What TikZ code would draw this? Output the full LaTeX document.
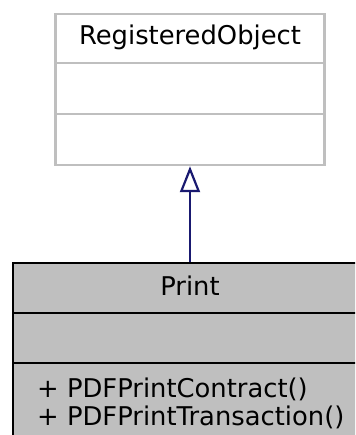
\documentclass[tikz,border=0pt]{standalone}
\usepackage{fontspec}
\setmainfont{DejaVu Sans}
\usetikzlibrary{arrows.meta}
\definecolor{boxgray}{HTML}{BFBFBF}
\definecolor{edgeblue}{HTML}{191970}
\begin{document}
\begin{tikzpicture}[x=1pt,y=-1pt,line join=miter,
  umltext/.style={inner sep=0pt,font=\fontsize{25.8}{28}\selectfont},
  basebox/.style={draw=boxgray,fill=white,line width=2.2pt,inner sep=0pt,anchor=north},
  mainbox/.style={draw=black,fill=boxgray,line width=2.2pt,inner sep=0pt,anchor=north}]
  \useasboundingbox (0,0) rectangle (355,435);
  \clip (0,0) rectangle (355,435);
  % base class
  \node[basebox,minimum width=269pt,minimum height=151pt] (regobj) at (190,13) {};
  \draw[boxgray,line width=2.2pt] (55.5,63) -- (324.5,63);
  \draw[boxgray,line width=2.2pt] (55.5,114) -- (324.5,114);
  \node[umltext,anchor=base] (regobjname) at (190,45) {RegisteredObject};
  % derived class
  \node[mainbox,minimum width=354pt,minimum height=178pt] (print) at (190,262) {};
  \draw[line width=2.2pt] (13,313) -- (367,313);
  \draw[line width=2.2pt] (13,363) -- (367,363);
  \node[umltext,anchor=base] (printname) at (190,295) {Print};
  \node[umltext,anchor=base west] (contract) at (37,397) {+ PDFPrintContract()};
  \node[umltext,anchor=base west] (transaction) at (37,425) {+ PDFPrintTransaction()};
  % inheritance
  \draw[-{Triangle[open,length=26pt,width=20pt]},edgeblue,line width=2.2pt]
    (print.north) -- (regobj.south);
\end{tikzpicture}
\end{document}
